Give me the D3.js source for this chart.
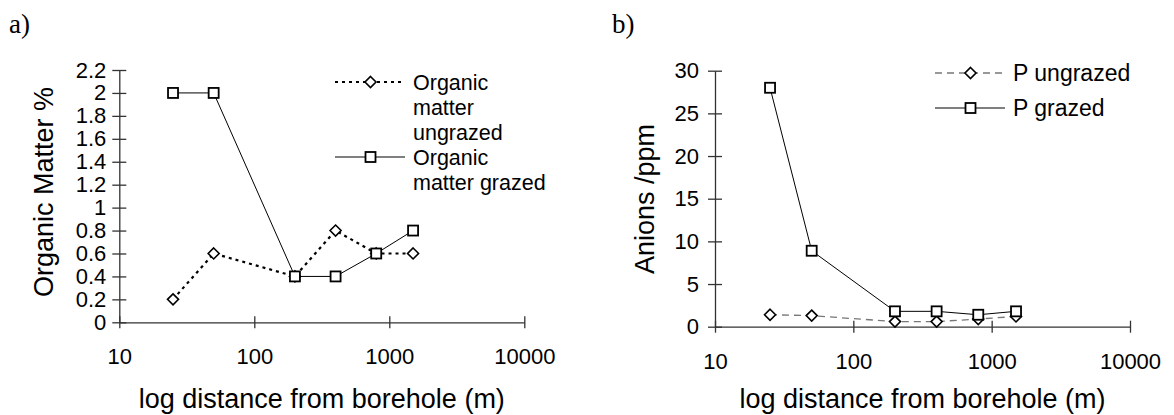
<!DOCTYPE html>
<html>
<head>
<meta charset="utf-8">
<script src="https://cdn.jsdelivr.net/npm/d3@7"></script>
<style>
  body { margin: 0; background: #fff; }
  svg { display: block; }
  text { font-family: "Liberation Sans", Arial, sans-serif; fill: #000; }
  .panel-id { font-family: "Liberation Serif", "Times New Roman", serif; font-size: 27px; }
  .tick text { font-size: 22px; }
  .axis-title { font-size: 27px; }
</style>
</head>
<body>
<div class="chart"></div>
<script>
// distances from borehole (m)
var distance = [25, 50, 200, 400, 800, 1500];

// a) organic matter %
var omUngrazed = [0.2, 0.6, 0.4, 0.8, 0.6, 0.6];
var omGrazed = [2, 2, 0.4, 0.4, 0.6, 0.8];
var omTicks = [0, 0.2, 0.4, 0.6, 0.8, 1, 1.2, 1.4, 1.6, 1.8, 2, 2.2];

// b) anions /ppm
var pUngrazed = [1.4, 1.3, 0.6, 0.6, 0.9, 1.2];
var pGrazed = [28, 8.9, 1.8, 1.8, 1.4, 1.8];
var pTicks = [0, 5, 10, 15, 20, 25, 30];

var xTicks = [10, 100, 1000, 10000];

var width = 1174, height = 415;

var svg = d3.select(".chart")
  .append("svg")
  .attr("width", width)
  .attr("height", height);

var diamond = "M0,-5.5L5.5,0L0,5.5L-5.5,0Z";

function drawPanel(opt){
  var x = d3.scaleLog()
    .domain([10, 10000])
    .range([opt.left, opt.right]);

  var y = d3.scaleLinear()
    .domain([0, opt.yMax])
    .range([opt.bottom, opt.top]);

  var g = svg.append("g");

  // x axis, ticks crossing the line
  var xAxis = g.append("g")
    .attr("transform", "translate(0," + opt.bottom + ")")
    .call(d3.axisBottom(x).tickValues(xTicks).tickFormat(d3.format("d")).tickSizeOuter(0));
  xAxis.selectAll(".tick line").attr("y1", -6).attr("y2", 6);
  xAxis.selectAll(".tick text").attr("y", 42).attr("dy", 0);

  // y axis
  var yAxis = g.append("g")
    .attr("transform", "translate(" + opt.left + ",0)")
    .call(d3.axisLeft(y).tickValues(opt.ticks).tickSizeOuter(0)
      .tickFormat(function(d){ return String(+d.toFixed(1)); }));
  yAxis.selectAll(".tick line").attr("x1", -7).attr("x2", 7);
  yAxis.selectAll(".tick text").attr("x", -opt.labelGap);

  g.selectAll(".domain, .tick line")
    .attr("stroke", "#333")
    .attr("stroke-width", 1.3);

  g.append("text")
    .attr("class", "axis-title")
    .attr("x", (opt.left + opt.right) / 2)
    .attr("y", 408)
    .attr("text-anchor", "middle")
    .text("log distance from borehole (m)");

  g.append("text")
    .attr("class", "axis-title")
    .attr("transform", "translate(" + opt.yTitleX + "," + opt.yTitleY + ") rotate(-90)")
    .attr("text-anchor", "middle")
    .text(opt.yTitle);

  g.append("text")
    .attr("class", "panel-id")
    .attr("x", opt.idX)
    .attr("y", 33)
    .text(opt.id);

  var line = d3.line()
    .x(function(d){ return x(d[0]); })
    .y(function(d){ return y(d[1]); });

  var ungrazed = d3.zip(distance, opt.ungrazed);
  var grazed = d3.zip(distance, opt.grazed);

  g.append("path")
    .datum(ungrazed)
    .attr("d", line)
    .attr("fill", "none")
    .attr("stroke", opt.ungrazedStroke)
    .attr("stroke-width", opt.ungrazedWidth)
    .attr("stroke-dasharray", opt.ungrazedDash);

  g.selectAll(".diamond")
    .data(ungrazed)
    .enter()
    .append("path")
    .attr("class", "diamond")
    .attr("d", diamond)
    .attr("transform", function(d){ return "translate(" + x(d[0]) + "," + y(d[1]) + ")"; });

  g.append("path")
    .datum(grazed)
    .attr("d", line)
    .attr("fill", "none")
    .attr("stroke", "#000")
    .attr("stroke-width", 1);

  g.selectAll(".square")
    .data(grazed)
    .enter()
    .append("rect")
    .attr("class", "square")
    .attr("x", function(d){ return x(d[0]) - 5; })
    .attr("y", function(d){ return y(d[1]) - 5; })
    .attr("width", 10)
    .attr("height", 10);

  // legend
  var leg = g.append("g").attr("class", "legend");
  var lx0 = opt.legX, lx1 = opt.legX + 70, lm = opt.legX + 35.5;

  leg.append("line")
    .attr("x1", lx0).attr("x2", lx1)
    .attr("y1", opt.legY[0]).attr("y2", opt.legY[0])
    .attr("stroke", opt.ungrazedStroke)
    .attr("stroke-width", opt.ungrazedWidth)
    .attr("stroke-dasharray", opt.ungrazedDash);
  leg.append("path")
    .attr("class", "diamond")
    .attr("d", diamond)
    .attr("transform", "translate(" + lm + "," + opt.legY[0] + ")");

  leg.append("line")
    .attr("x1", lx0).attr("x2", lx1)
    .attr("y1", opt.legY[1]).attr("y2", opt.legY[1])
    .attr("stroke", "#000")
    .attr("stroke-width", 1);
  leg.append("rect")
    .attr("class", "square")
    .attr("x", lm - 5).attr("y", opt.legY[1] - 5)
    .attr("width", 10).attr("height", 10);

  opt.legLabels.forEach(function(lines, i){
    var t = leg.append("text")
      .attr("x", lx1 + 8)
      .attr("y", opt.legY[i] + 8)
      .style("font-size", opt.legFont + "px");
    lines.forEach(function(s, j){
      t.append("tspan")
        .attr("x", lx1 + 8)
        .attr("dy", j === 0 ? 0 : 25)
        .text(s);
    });
  });

  g.selectAll(".diamond")
    .attr("fill", "#fff")
    .attr("stroke", "#000")
    .attr("stroke-width", 1.6);
  g.selectAll(".square")
    .attr("fill", "#fff")
    .attr("stroke", "#000")
    .attr("stroke-width", 1.8);
}

drawPanel({
  id: "a)", idX: 9,
  left: 119.3, right: 524.3, top: 70, bottom: 322.3,
  yMax: 2.2, ticks: omTicks, labelGap: 13,
  yTitle: "Organic Matter %", yTitleX: 53, yTitleY: 192,
  ungrazed: omUngrazed, grazed: omGrazed,
  ungrazedStroke: "#000", ungrazedWidth: 2.2, ungrazedDash: "3,4",
  legX: 335, legY: [82, 157], legFont: 21.5,
  legLabels: [["Organic", "matter", "ungrazed"], ["Organic", "matter grazed"]]
});

drawPanel({
  id: "b)", idX: 612,
  left: 715, right: 1130, top: 70.7, bottom: 326.7,
  yMax: 30, ticks: pTicks, labelGap: 16,
  yTitle: "Anions /ppm", yTitleX: 654, yTitleY: 199,
  ungrazed: pUngrazed, grazed: pGrazed,
  ungrazedStroke: "#777", ungrazedWidth: 1.3, ungrazedDash: "7,5",
  legX: 935, legY: [73, 108], legFont: 23,
  legLabels: [["P ungrazed"], ["P grazed"]]
});
</script>
</body>
</html>
